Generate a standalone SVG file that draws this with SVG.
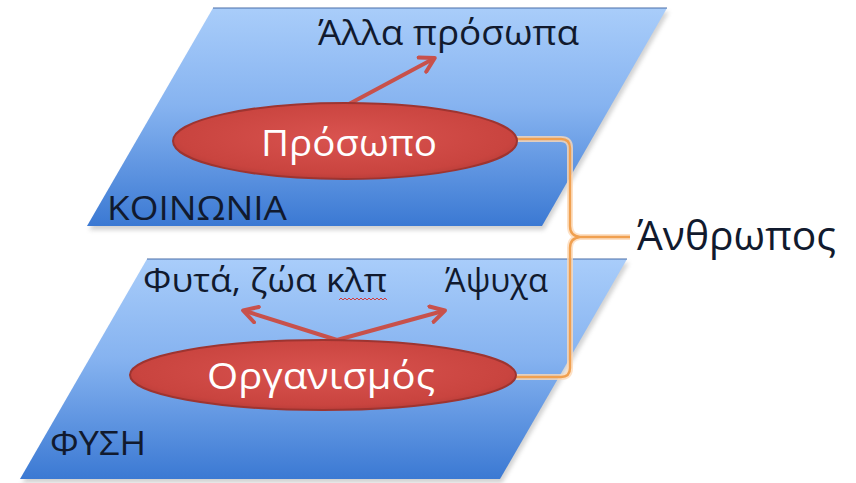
<svg xmlns="http://www.w3.org/2000/svg" width="856" height="483" viewBox="0 0 856 483">
  <defs>
    <linearGradient id="plane" x1="0" y1="0" x2="0" y2="1">
      <stop offset="0" stop-color="#a9cdfa"/>
      <stop offset="0.45" stop-color="#86b3f0"/>
      <stop offset="1" stop-color="#3b79d3"/>
    </linearGradient>
    <radialGradient id="oval" cx="0.5" cy="0.45" r="0.6">
      <stop offset="0" stop-color="#d9534f"/>
      <stop offset="0.8" stop-color="#c9443f"/>
      <stop offset="1" stop-color="#b23a36"/>
    </radialGradient>
    <filter id="shadow" x="-5%" y="-5%" width="110%" height="115%">
      <feGaussianBlur stdDeviation="2"/>
    </filter>
    <marker id="arr" viewBox="0 0 10 10" refX="7" refY="5" markerWidth="5" markerHeight="5" orient="auto" markerUnits="strokeWidth">
      <path d="M1,1 L8,5 L1,9" fill="none" stroke="#c8514b" stroke-width="2" stroke-linecap="round" stroke-linejoin="round"/>
    </marker>
  </defs>
  <style>
    .plane { fill: url(#plane); }
    .edge { stroke: #4a6fa8; stroke-width: 1.2; }
    .shadow { fill: #7f7f7f; opacity: 0.35; filter: url(#shadow); }
    .oval { fill: url(#oval); stroke: #9e3430; stroke-width: 2; }
    .dark { font-family: "Open Sans", "DejaVu Sans", sans-serif; fill: #111a2e; }
    .white { font-family: "Open Sans", "DejaVu Sans", sans-serif; fill: #ffffff; text-anchor: middle; }
    .arrow { stroke: #c8514b; stroke-width: 4; fill: none; stroke-linecap: round; marker-end: url(#arr); }
    .brace-glow { stroke: #fcd9b8; stroke-width: 6; fill: none; opacity: 0.8; }
    .brace { stroke: #f0a050; stroke-width: 2.4; fill: none; }
  </style>

  <g id="plane-koinonia">
    <polygon class="shadow" points="215,12 669,12 544,230 89,230"/>
    <polygon class="plane" points="213,8 667,8 542,226 87,226"/>
    <line class="edge" x1="213" y1="8" x2="667" y2="8"/>
    <text class="dark" x="107" y="220" font-size="32" textLength="180" lengthAdjust="spacingAndGlyphs">ΚΟΙΝΩΝΙΑ</text>
  </g>

  <g id="plane-fysi">
    <polygon class="shadow" points="149,263 629,263 502,483 22,483"/>
    <polygon class="plane" points="147,259 627,259 500,479 20,479"/>
    <line class="edge" x1="147" y1="259" x2="627" y2="259"/>
    <text class="dark" x="50" y="455" font-size="32" textLength="96" lengthAdjust="spacingAndGlyphs">ΦΥΣΗ</text>
  </g>

  <g id="connectors">
    <line class="arrow" x1="349" y1="104" x2="433" y2="59"/>
    <line class="arrow" x1="337" y1="340" x2="245" y2="311"/>
    <line class="arrow" x1="337" y1="340" x2="443" y2="311"/>
    <path class="brace-glow" d="M516,139 L561,139 Q570,139 570,148 L570,226 Q570,236 580,237 Q570,238 570,248 L570,368 Q570,377 561,377 L516,377 M580,237 L630,237"/>
    <path class="brace" d="M516,139 L561,139 Q570,139 570,148 L570,226 Q570,236 580,237 Q570,238 570,248 L570,368 Q570,377 561,377 L516,377 M580,237 L630,237"/>
  </g>

  <g id="node-prosopo">
    <ellipse class="oval" cx="345" cy="141" rx="172" ry="38"/>
    <text class="white" x="349" y="156" font-size="36" textLength="176" lengthAdjust="spacingAndGlyphs">Πρόσωπο</text>
  </g>

  <g id="node-organismos">
    <ellipse class="oval" cx="323" cy="375" rx="193" ry="35"/>
    <text class="white" x="321" y="389" font-size="36" textLength="228" lengthAdjust="spacingAndGlyphs">Οργανισμός</text>
  </g>

  <g id="node-alla-prosopa">
    <text class="dark" x="318" y="45" font-size="34" textLength="261" lengthAdjust="spacingAndGlyphs">Άλλα πρόσωπα</text>
  </g>

  <g id="node-fyta">
    <text class="dark" x="143" y="292" font-size="32" textLength="244" lengthAdjust="spacingAndGlyphs">Φυτά, ζώα κλπ</text>
    <path d="M339,300 l2,-2 l2,2 l2,-2 l2,2 l2,-2 l2,2 l2,-2 l2,2 l2,-2 l2,2 l2,-2 l2,2 l2,-2 l2,2 l2,-2 l2,2 l2,-2 l2,2 l2,-2 l2,2 l2,-2 l2,2 l2,-2 l2,2" fill="none" stroke="#d63a3a" stroke-width="1"/>
  </g>

  <g id="node-apsycha">
    <text class="dark" x="445" y="292" font-size="32" textLength="103" lengthAdjust="spacingAndGlyphs">Άψυχα</text>
  </g>

  <g id="node-anthropos">
    <text class="dark" x="637" y="250" font-size="40" textLength="199" lengthAdjust="spacingAndGlyphs">Άνθρωπος</text>
  </g>
</svg>
